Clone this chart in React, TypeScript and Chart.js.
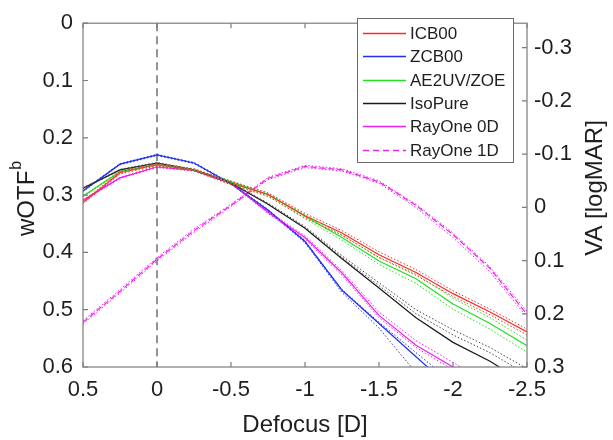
import React, { useEffect, useRef } from "react";
import { Chart, registerables } from "chart.js";

Chart.register(...registerables);

// Defocus [D]
const defocus = [0.5, 0.25, 0, -0.25, -0.5, -0.75, -1, -1.25, -1.5, -1.75, -2, -2.25, -2.5];

// wOTF^b solid curves
const icb00 = [0.313, 0.261, 0.247, 0.256, 0.279, 0.299, 0.336, 0.366, 0.404, 0.435, 0.472, 0.504, 0.539];
const zcb00 = [0.293, 0.246, 0.23, 0.244, 0.28, 0.326, 0.381, 0.466, 0.524, 0.582, 0.64, 0.7, 0.76];
const ae2uv = [0.302, 0.259, 0.247, 0.256, 0.277, 0.299, 0.337, 0.374, 0.415, 0.446, 0.49, 0.524, 0.563];
const isoPure = [0.288, 0.256, 0.244, 0.256, 0.279, 0.316, 0.358, 0.411, 0.462, 0.514, 0.557, 0.59, 0.63];
const rayOne0D = [0.309, 0.27, 0.251, 0.257, 0.279, 0.33, 0.374, 0.436, 0.51, 0.562, 0.6, 0.64, 0.68];
const rayOne1D = [0.522, 0.468, 0.412, 0.362, 0.318, 0.271, 0.25, 0.256, 0.277, 0.318, 0.369, 0.428, 0.508];

// dotted companion curves
const icb00A = [0.311, 0.259, 0.245, 0.254, 0.276, 0.296, 0.332, 0.362, 0.399, 0.43, 0.467, 0.499, 0.534];
const icb00B = [0.315, 0.263, 0.249, 0.258, 0.282, 0.302, 0.34, 0.37, 0.409, 0.44, 0.477, 0.509, 0.544];
const zcb00A = [0.294, 0.247, 0.231, 0.245, 0.281, 0.328, 0.383, 0.47, 0.532, 0.61, 0.68, 0.74, 0.8];
const zcb00B = [0.292, 0.245, 0.229, 0.243, 0.279, 0.325, 0.38, 0.465, 0.522, 0.575, 0.628, 0.69, 0.75];
const ae2uvA = [0.301, 0.258, 0.246, 0.255, 0.275, 0.297, 0.334, 0.37, 0.409, 0.438, 0.48, 0.514, 0.553];
const ae2uvB = [0.303, 0.26, 0.248, 0.257, 0.279, 0.302, 0.341, 0.379, 0.421, 0.454, 0.499, 0.534, 0.574];
const isoPureA = [0.287, 0.255, 0.243, 0.255, 0.278, 0.314, 0.355, 0.406, 0.453, 0.5, 0.535, 0.566, 0.603];
const isoPureB = [0.289, 0.257, 0.245, 0.257, 0.28, 0.315, 0.357, 0.409, 0.458, 0.507, 0.544, 0.575, 0.613];
const rayOne0DA = [0.308, 0.269, 0.25, 0.256, 0.278, 0.328, 0.371, 0.432, 0.504, 0.554, 0.592, 0.63, 0.67];
const rayOne0DB = [0.31, 0.271, 0.252, 0.258, 0.28, 0.332, 0.377, 0.44, 0.514, 0.566, 0.605, 0.645, 0.685];
const rayOne1DA = [0.519, 0.465, 0.409, 0.359, 0.316, 0.269, 0.248, 0.254, 0.275, 0.316, 0.366, 0.425, 0.503];
const rayOne1DB = [0.525, 0.471, 0.415, 0.365, 0.32, 0.273, 0.252, 0.258, 0.279, 0.322, 0.374, 0.434, 0.513];

const xTicks = [0.5, 0, -0.5, -1, -1.5, -2, -2.5];
const leftTicks = [0, 0.1, 0.2, 0.3, 0.4, 0.5, 0.6];
const rightTicks = [-0.3, -0.2, -0.1, 0, 0.1, 0.2, 0.3];

const legendLabels = ["ICB00", "ZCB00", "AE2UV/ZOE", "IsoPure", "RayOne 0D", "RayOne 1D"];
const seriesColors = ["rgb(255,40,40)", "rgb(31,48,238)", "rgb(34,224,34)", "rgb(26,26,26)", "rgb(240,32,240)", "rgb(240,32,240)"];

const FONT = "'Liberation Sans', Arial, Helvetica, sans-serif";
const TEXT = "#1e1e1e";
const AXIS = "#7c7c7c";

const fmt = (v: number) => String(Math.round(v * 10) / 10);

const pts = (ys: number[]) => defocus.map((x, i) => ({ x, y: ys[i] }));

const overlay = {
  id: "overlay",
  beforeDatasetsDraw(chart: any) {
    const { ctx, chartArea, scales } = chart;
    const x0 = scales.x.getPixelForValue(0);
    ctx.save();
    ctx.strokeStyle = "#5a5a5a";
    ctx.lineWidth = 1.3;
    ctx.setLineDash([8, 5]);
    ctx.beginPath();
    ctx.moveTo(x0, chartArea.top);
    ctx.lineTo(x0, chartArea.bottom);
    ctx.stroke();
    ctx.restore();
  },
  afterDraw(chart: any) {
    const { ctx, chartArea: a, scales } = chart;
    ctx.save();
    ctx.setLineDash([]);
    // frame
    ctx.strokeStyle = AXIS;
    ctx.lineWidth = 1.2;
    ctx.strokeRect(a.left, a.top, a.right - a.left, a.bottom - a.top);
    // inner ticks
    const tl = 5;
    ctx.beginPath();
    xTicks.forEach((v) => {
      const px = scales.x.getPixelForValue(v);
      ctx.moveTo(px, a.bottom);
      ctx.lineTo(px, a.bottom - tl);
      ctx.moveTo(px, a.top);
      ctx.lineTo(px, a.top + tl);
    });
    leftTicks.forEach((v) => {
      const py = scales.y.getPixelForValue(v);
      ctx.moveTo(a.left, py);
      ctx.lineTo(a.left + tl, py);
    });
    rightTicks.forEach((v) => {
      const py = scales.y2.getPixelForValue(v);
      ctx.moveTo(a.right, py);
      ctx.lineTo(a.right - tl, py);
    });
    ctx.stroke();
    ctx.restore();

    // legend
    ctx.save();
    const lx = 357.5, ly = 18.5, lw = 156, lh = 144;
    ctx.fillStyle = "#ffffff";
    ctx.fillRect(lx, ly, lw, lh);
    ctx.strokeStyle = "#6a6a6a";
    ctx.lineWidth = 1;
    ctx.strokeRect(lx, ly, lw, lh);
    ctx.restore();

    legendLabels.forEach((lab, i) => {
      const yy = Math.round(33 + i * 23.3) + 0.5;
      ctx.save();
      ctx.strokeStyle = seriesColors[i];
      ctx.lineWidth = 1.3;
      ctx.setLineDash(i === 5 ? [6, 4] : []);
      ctx.beginPath();
      ctx.moveTo(363, yy);
      ctx.lineTo(406, yy);
      ctx.stroke();
      ctx.restore();
      ctx.save();
      ctx.font = `17px ${FONT}`;
      ctx.textAlign = "left";
      ctx.textBaseline = "middle";
      ctx.fillStyle = TEXT;
      ctx.fillText(lab, 410, yy + 1);
      ctx.restore();
    });

    // titles
    ctx.save();
    ctx.fillStyle = TEXT;
    ctx.textBaseline = "alphabetic";
    ctx.font = `24px ${FONT}`;
    ctx.textAlign = "center";
    ctx.fillText("Defocus [D]", 305, 432);

    // left title wOTF^b
    ctx.save();
    ctx.translate(34, 236);
    ctx.rotate(-Math.PI / 2);
    ctx.textAlign = "left";
    ctx.font = `24px ${FONT}`;
    ctx.fillText("wOTF", 0, 0);
    const w = ctx.measureText("wOTF").width;
    ctx.font = `16px ${FONT}`;
    ctx.fillText("b", w + 1, -13);
    ctx.restore();

    // right title
    ctx.save();
    ctx.translate(602, 188);
    ctx.rotate(-Math.PI / 2);
    ctx.textAlign = "center";
    ctx.font = `24px ${FONT}`;
    ctx.fillText("VA [logMAR]", 0, 0);
    ctx.restore();

    ctx.restore();
  },
};

export default function App() {
  const ref = useRef<HTMLCanvasElement | null>(null);

  useEffect(() => {
    document.body.style.margin = "0";
    const canvas = ref.current;
    if (!canvas) return;

    const solid = (label: string, data: number[], color: string, dash: number[] = []) => ({
      label,
      data: pts(data),
      borderColor: color,
      backgroundColor: color,
      borderWidth: 1.2,
      borderDash: dash,
      pointRadius: 0,
      tension: 0,
      clip: 0,
      yAxisID: "y",
    });
    const dotted = (data: number[], color: string) => ({
      label: "",
      data: pts(data),
      borderColor: color,
      backgroundColor: color,
      borderWidth: 1,
      borderDash: [1.5, 2],
      pointRadius: 0,
      tension: 0,
      clip: 0,
      yAxisID: "y",
    });

    const tickFont = { size: 22, family: FONT };

    const chart = new Chart(canvas, {
      type: "line",
      data: {
        datasets: [
          dotted(icb00A, seriesColors[0]),
          dotted(icb00B, seriesColors[0]),
          dotted(ae2uvA, seriesColors[2]),
          dotted(ae2uvB, seriesColors[2]),
          dotted(isoPureA, "#444444"),
          dotted(isoPureB, "#444444"),
          dotted(zcb00A, seriesColors[1]),
          dotted(zcb00B, seriesColors[1]),
          dotted(rayOne0DA, seriesColors[4]),
          dotted(rayOne0DB, seriesColors[4]),
          dotted(rayOne1DA, seriesColors[5]),
          dotted(rayOne1DB, seriesColors[5]),
          solid(legendLabels[0], icb00, seriesColors[0]),
          solid(legendLabels[2], ae2uv, seriesColors[2]),
          solid(legendLabels[3], isoPure, seriesColors[3]),
          solid(legendLabels[4], rayOne0D, seriesColors[4]),
          solid(legendLabels[1], zcb00, seriesColors[1]),
          solid(legendLabels[5], rayOne1D, seriesColors[5], [6, 3]),
        ] as any,
      },
      options: {
        animation: false,
        responsive: false,
        devicePixelRatio: 1,
        layout: { padding: { top: 12, left: 0, right: 0, bottom: 0 } },
        plugins: {
          legend: { display: false },
          title: { display: false },
          tooltip: { enabled: false },
        },
        scales: {
          x: {
            type: "linear",
            min: -2.5,
            max: 0.5,
            reverse: true,
            grid: { display: false, drawTicks: false },
            border: { display: false },
            afterBuildTicks: (s: any) => {
              s.ticks = xTicks.map((value) => ({ value }));
            },
            afterFit: (s: any) => {
              s.height = 73;
            },
            ticks: {
              callback: (v: any) => fmt(Number(v)),
              font: tickFont,
              color: TEXT,
              padding: 10,
              maxRotation: 0,
              autoSkip: false,
            },
          },
          y: {
            type: "linear",
            position: "left",
            min: 0,
            max: 0.6,
            reverse: true,
            grid: { display: false, drawTicks: false },
            border: { display: false },
            afterBuildTicks: (s: any) => {
              s.ticks = leftTicks.map((value) => ({ value }));
            },
            afterFit: (s: any) => {
              s.width = 83;
            },
            ticks: {
              callback: (v: any) => fmt(Number(v)),
              font: tickFont,
              color: TEXT,
              padding: 10,
              autoSkip: false,
            },
          },
          y2: {
            type: "linear",
            position: "right",
            min: -0.346,
            max: 0.3,
            reverse: true,
            grid: { display: false, drawTicks: false },
            border: { display: false },
            afterBuildTicks: (s: any) => {
              s.ticks = rightTicks.map((value) => ({ value }));
            },
            afterFit: (s: any) => {
              s.width = 86;
            },
            ticks: {
              callback: (v: any) => fmt(Number(v)),
              font: tickFont,
              color: TEXT,
              padding: 7,
              autoSkip: false,
            },
          },
        },
      } as any,
      plugins: [overlay],
    });

    return () => chart.destroy();
  }, []);

  return (
    <div style={{ position: "absolute", left: 0, top: 0, width: 613, height: 440, background: "#fff" }}>
      <canvas ref={ref} width={613} height={440} style={{ display: "block", width: 613, height: 440 }} />
    </div>
  );
}
